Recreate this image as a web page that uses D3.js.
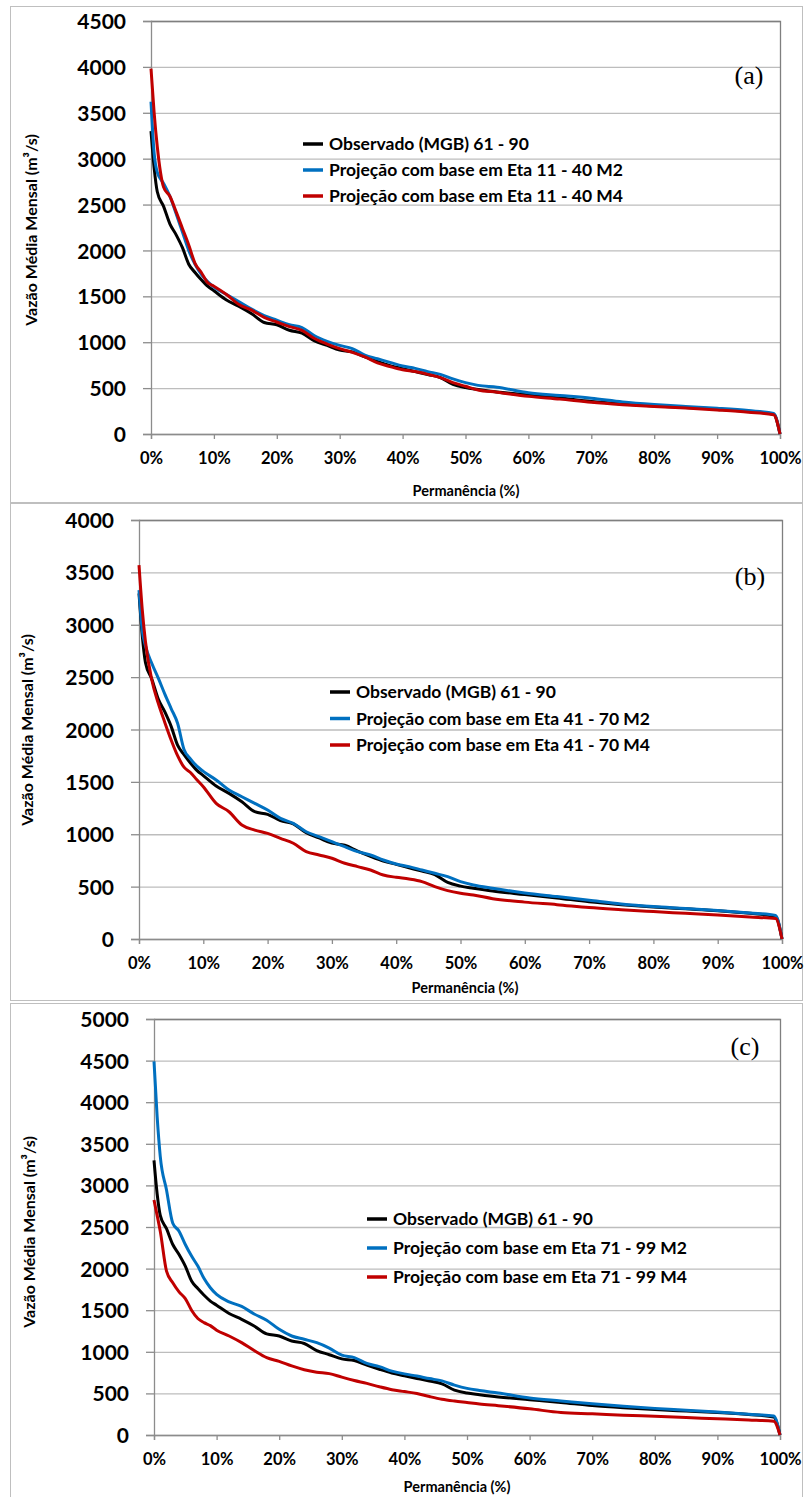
<!DOCTYPE html>
<html>
<head>
<meta charset="utf-8">
<script src="https://cdn.jsdelivr.net/npm/d3@7/dist/d3.min.js"></script>
<style>
  body { margin: 0; background: #fff; }
  svg text { font-family: "Lato", "Open Sans", sans-serif; font-weight: bold; fill: #000; }
  .grid line { stroke: #BDBDBD; stroke-width: 1.3; }
  .grid path { stroke: none; }
</style>
</head>
<body>
<svg id="chart" width="804" height="1497"></svg>
<script>
// permanence (%) shared by every curve
const pct = [0, 0.5, 1, 2, 3, 4, 5, 6, 7, 8, 9, 10, 12, 14, 16, 18, 20, 22, 24, 26, 28, 30, 32, 34, 36, 38, 40, 42, 44, 46, 48, 50, 52, 55, 60, 65, 70, 75, 80, 85, 90, 95, 99, 100];

// Observado (MGB) 61 - 90, same in all three panels
const observado = [3300, 2900, 2640, 2480, 2290, 2170, 2030, 1850, 1760, 1680, 1610, 1560, 1460, 1390, 1310, 1215, 1190, 1130, 1100, 1015, 965, 915, 895, 840, 790, 745, 712, 680, 648, 615, 540, 505, 485, 458, 425, 392, 355, 328, 306, 288, 270, 245, 215, 0];

// (a) Eta 11 - 40
const eta1140M2 = [3620, 3060, 2850, 2730, 2590, 2400, 2200, 2000, 1850, 1740, 1660, 1600, 1520, 1440, 1360, 1290, 1240, 1190, 1160, 1070, 1010, 965, 930, 860, 820, 780, 740, 715, 680, 650, 600, 560, 530, 510, 450, 420, 390, 350, 322, 300, 280, 255, 225, 0];
const eta1140M4 = [3980, 3500, 3130, 2690, 2590, 2420, 2240, 2060, 1860, 1760, 1650, 1610, 1520, 1410, 1350, 1270, 1220, 1170, 1130, 1040, 980, 930, 890, 840, 775, 735, 700, 680, 650, 615, 560, 520, 480, 455, 410, 380, 345, 320, 300, 282, 262, 238, 210, 0];

// (b) Eta 41 - 70
const eta4170M2 = [3330, 2950, 2800, 2630, 2490, 2340, 2200, 2060, 1810, 1720, 1650, 1600, 1518, 1422, 1358, 1295, 1231, 1152, 1104, 1024, 977, 929, 881, 834, 802, 754, 716, 691, 659, 627, 595, 548, 516, 484, 440, 405, 370, 335, 310, 292, 272, 248, 225, 0];
const eta4170M4 = [3570, 3150, 2840, 2470, 2250, 2070, 1900, 1750, 1640, 1590, 1520, 1454, 1295, 1215, 1088, 1040, 1008, 961, 914, 834, 802, 771, 723, 691, 659, 611, 589, 573, 548, 500, 462, 437, 420, 385, 352, 328, 300, 280, 262, 245, 228, 210, 195, 0];

// (c) Eta 71 - 99
const eta7199M2 = [4490, 3830, 3350, 2945, 2545, 2450, 2290, 2150, 2030, 1880, 1770, 1690, 1600, 1545, 1455, 1380, 1270, 1190, 1150, 1110, 1045, 960, 930, 860, 822, 768, 735, 708, 678, 650, 600, 560, 535, 505, 445, 410, 375, 345, 320, 298, 275, 250, 228, 0];
const eta7199M4 = [2825, 2640, 2450, 1970, 1830, 1720, 1640, 1500, 1400, 1350, 1315, 1260, 1190, 1110, 1015, 930, 885, 830, 785, 755, 738, 695, 655, 620, 580, 545, 522, 498, 462, 430, 408, 390, 372, 352, 315, 270, 255, 238, 225, 210, 195, 180, 165, 0];

const xTicks = [0, 10, 20, 30, 40, 50, 60, 70, 80, 90, 100];
const seriesColors = ["#000000", "#0070C0", "#C00000"];

const panels = [
  { label: "(a)", yMax: 4500, box: [6, 502], plot: { l: 151, r: 780, t: 21, b: 434 },
    legend: { x: 303, y: 144, dy: 26 }, labelPos: [749, 84], xTitle: [466, 496], yTitle: [37, 230],
    names: ["Observado (MGB) 61 - 90", "Projeção com base em Eta 11 - 40 M2", "Projeção com base em Eta 11 - 40 M4"],
    series: [observado, eta1140M2, eta1140M4] },
  { label: "(b)", yMax: 4000, box: [503, 1000], plot: { l: 139, r: 782, t: 520, b: 939 },
    legend: { x: 330, y: 692, dy: 26.5 }, labelPos: [750, 585], xTitle: [465, 993], yTitle: [33, 730],
    names: ["Observado (MGB) 61 - 90", "Projeção com base em Eta 41 - 70 M2", "Projeção com base em Eta 41 - 70 M4"],
    series: [observado, eta4170M2, eta4170M4] },
  { label: "(c)", yMax: 5000, box: [1003, 1497], plot: { l: 154, r: 780, t: 1019, b: 1435 },
    legend: { x: 367, y: 1219, dy: 29 }, labelPos: [745, 1055], xTitle: [457, 1492], yTitle: [35, 1232],
    names: ["Observado (MGB) 61 - 90", "Projeção com base em Eta 71 - 99 M2", "Projeção com base em Eta 71 - 99 M4"],
    series: [observado, eta7199M2, eta7199M4] }
];

const svg = d3.select("#chart");

function drawPanel(p) {
  const g = svg.append("g");

  // outer frame
  g.append("rect")
    .attr("x", 10.5).attr("y", p.box[0] + 0.5)
    .attr("width", 792).attr("height", p.box[1] - p.box[0])
    .attr("fill", "none").attr("stroke", "#BFBFBF");

  const x = d3.scaleLinear().domain([0, 100]).range([p.plot.l, p.plot.r]);
  const y = d3.scaleLinear().domain([0, p.yMax]).range([p.plot.b, p.plot.t]);
  const yTicks = d3.range(0, p.yMax + 1, 500);

  // horizontal gridlines
  g.append("g")
    .attr("class", "grid")
    .attr("transform", `translate(${p.plot.l},0)`)
    .call(d3.axisLeft(y).tickValues(yTicks).tickSize(-(p.plot.r - p.plot.l)).tickFormat(""));

  // plot area border (top + right)
  g.append("path")
    .attr("d", `M${p.plot.l},${p.plot.t + 0.5}H${p.plot.r + 0.5}V${p.plot.b}`)
    .attr("fill", "none").attr("stroke", "#7F7F7F").attr("stroke-width", 1.3);

  // y axis
  const ya = g.append("g")
    .attr("transform", `translate(${p.plot.l},0)`)
    .call(d3.axisLeft(y).tickValues(yTicks).tickSize(8).tickPadding(17).tickFormat(d3.format("d")));
  ya.select(".domain").attr("stroke", "#8C8C8C").attr("stroke-width", 1.3);
  ya.selectAll(".tick line").attr("stroke", "#8C8C8C").attr("stroke-width", 1.3);
  ya.selectAll("text").style("font-size", "21px").attr("dy", "0.36em");

  // x axis
  const xa = g.append("g")
    .attr("transform", `translate(0,${p.plot.b})`)
    .call(d3.axisBottom(x).tickValues(xTicks).tickSize(5).tickPadding(13).tickFormat(d => d + "%"));
  xa.select(".domain").attr("stroke", "#8C8C8C").attr("stroke-width", 1.3);
  xa.selectAll(".tick line").attr("stroke", "#8C8C8C").attr("stroke-width", 1.3);
  xa.selectAll("text").style("font-size", "16.5px");

  // curves
  const line = d3.line()
    .x((d, i) => x(pct[i]))
    .y(d => y(d))
    .curve(d3.curveMonotoneX);

  p.series.forEach((s, i) => {
    g.append("path")
      .datum(s)
      .attr("d", line)
      .attr("fill", "none")
      .attr("stroke", seriesColors[i])
      .attr("stroke-width", 3)
      .attr("stroke-linejoin", "round");
  });

  // legend
  p.names.forEach((name, i) => {
    const ly = p.legend.y + i * p.legend.dy;
    g.append("line")
      .attr("x1", p.legend.x).attr("x2", p.legend.x + 20)
      .attr("y1", ly).attr("y2", ly)
      .attr("stroke", seriesColors[i]).attr("stroke-width", 3.5);
    g.append("text")
      .attr("x", p.legend.x + 26).attr("y", ly)
      .attr("dy", "0.35em")
      .style("font-size", "17.5px")
      .text(name);
  });

  // panel letter
  g.append("text")
    .attr("x", p.labelPos[0]).attr("y", p.labelPos[1])
    .attr("text-anchor", "middle")
    .style("font-family", "'Liberation Serif', 'Times New Roman', serif")
    .style("font-weight", "normal")
    .style("font-size", "26px")
    .text(p.label);

  // axis titles
  g.append("text")
    .attr("x", p.xTitle[0]).attr("y", p.xTitle[1])
    .attr("text-anchor", "middle")
    .style("font-size", "14.5px")
    .text("Permanência  (%)");

  g.append("text")
    .attr("transform", `translate(${p.yTitle[0]},${p.yTitle[1]}) rotate(-90)`)
    .attr("text-anchor", "middle")
    .style("font-size", "16px")
    .text("Vazão Média Mensal  (m³/s)");
}

panels.forEach(drawPanel);
</script>
</body>
</html>
